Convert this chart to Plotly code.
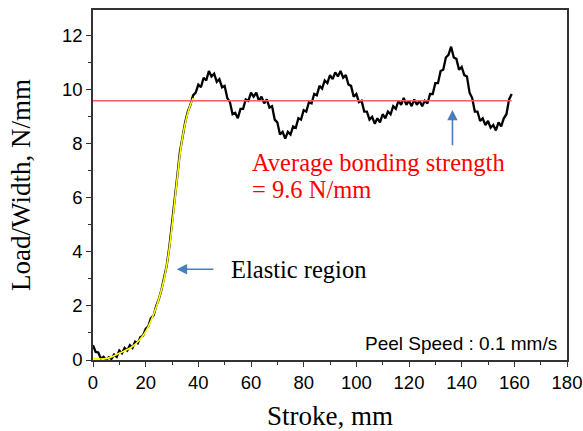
import plotly.graph_objects as go

# ---- data ----
stroke = list(range(0, 160))
load = [0.55, 0.3, 0.28, 0.05, 0.12, 0.0, 0.1, 0.04, 0.2, 0.12,
        0.35, 0.25, 0.45, 0.35, 0.55, 0.45, 0.68, 0.62, 0.85, 0.9,
        1.15, 1.25, 1.55, 1.65, 2.0, 2.25, 2.6, 3.0, 3.5, 4.2,
        5.0, 5.9, 6.8, 7.7, 8.3, 8.8, 9.2, 9.45, 9.8, 9.9,
        10.2, 10.1, 10.45, 10.35, 10.7, 10.5, 10.6, 10.3, 10.4, 10.1,
        10.15, 9.7, 9.55, 9.1, 9.15, 8.95, 9.3, 9.3, 9.65, 9.6,
        9.9, 9.75, 9.9, 9.6, 9.75, 9.5, 9.65, 9.35, 9.4, 8.9,
        8.8, 8.35, 8.45, 8.2, 8.45, 8.35, 8.65, 8.6, 8.95, 8.9,
        9.25, 9.2, 9.55, 9.5, 9.85, 9.8, 10.15, 10.05, 10.35, 10.25,
        10.55, 10.4, 10.65, 10.5, 10.7, 10.45, 10.55, 10.2, 10.15, 9.75,
        9.85, 9.55, 9.6, 9.2, 9.2, 8.9, 9.0, 8.75, 8.95, 8.8,
        9.1, 8.95, 9.2, 9.1, 9.4, 9.3, 9.6, 9.45, 9.7, 9.45,
        9.6, 9.4, 9.65, 9.45, 9.6, 9.4, 9.6, 9.5, 9.85, 9.85,
        10.25, 10.25, 10.7, 10.75, 11.2, 11.3, 11.6, 11.2, 11.15, 10.75,
        10.85, 10.55, 10.5, 9.9, 9.7, 9.2, 9.2, 8.85, 8.95, 8.7,
        8.85, 8.6, 8.7, 8.5, 8.8, 8.65, 8.95, 9.1, 9.65, 9.85]

fit_x = [0, 5, 10, 15, 18, 20, 22, 24, 26, 27, 28, 29, 30, 31, 32, 33, 34, 35, 36, 37, 38]
fit_y = [0.05, 0.05, 0.25, 0.5, 0.78, 1.05, 1.45, 1.95, 2.6, 3.0, 3.5, 4.15, 4.95,
         5.85, 6.75, 7.6, 8.25, 8.75, 9.15, 9.45, 9.7]

avg_x = [0, 159]
avg_value = 9.6

x_ticks = [0, 20, 40, 60, 80, 100, 120, 140, 160, 180]
y_ticks = [0, 2, 4, 6, 8, 10, 12]

SERIF = "Liberation Serif, Times New Roman, serif"
SANS = "Liberation Sans, Arial, sans-serif"
ARROW = "#4a7ebb"

fig = go.Figure()
fig.add_trace(go.Scatter(x=stroke, y=load, mode="lines",
                         line=dict(color="black", width=2.3), showlegend=False))
fig.add_trace(go.Scatter(x=fit_x, y=fit_y, mode="lines", line_shape="spline",
                         line=dict(color="#ffff00", width=1.6), showlegend=False))
fig.add_trace(go.Scatter(x=avg_x, y=[avg_value] * len(avg_x), mode="lines",
                         line=dict(color="#ff5a5a", width=1.4), showlegend=False))

axis_common = dict(showline=True, linecolor="#333333", linewidth=1.5, mirror=True,
                   ticks="outside", ticklen=5, tickwidth=1.2, tickcolor="#333333",
                   showgrid=False, zeroline=False, automargin=False,
                   tickfont=dict(family=SANS, size=18.5, color="black"))

fig.update_xaxes(range=[0, 180], tickvals=x_ticks,
                 minor=dict(dtick=10, tick0=0, ticks="outside", ticklen=3, tickcolor="#333333"),
                 title=dict(text="Stroke, mm", font=dict(family=SERIF, size=27, color="black"),
                            standoff=20),
                 **axis_common)
fig.update_yaxes(range=[0, 12.96], tickvals=y_ticks,
                 minor=dict(dtick=1, tick0=0, ticks="outside", ticklen=3, tickcolor="#333333"),
                 title=dict(text="Load/Width, N/mm", font=dict(family=SERIF, size=27, color="black"),
                            standoff=24),
                 **axis_common)

annotations = [
    dict(x=31.8, y=3.36, ax=46.3, ay=3.36, xref="x", yref="y", axref="x", ayref="y",
         text="", showarrow=True, arrowhead=2, arrowsize=1.3, arrowwidth=1.6, arrowcolor=ARROW),
    dict(x=136.5, y=9.26, ax=136.5, ay=7.9, xref="x", yref="y", axref="x", ayref="y",
         text="", showarrow=True, arrowhead=2, arrowsize=1.3, arrowwidth=1.6, arrowcolor=ARROW),
    dict(x=51.5, y=3.36, xref="x", yref="y", text="Elastic region", showarrow=False,
         xanchor="left", yanchor="middle", font=dict(family=SERIF, size=24.5, color="black")),
    dict(x=59.5, y=7.33, xref="x", yref="y", text="Average bonding strength", showarrow=False,
         xanchor="left", yanchor="middle", font=dict(family=SERIF, size=24.5, color="#ff0000")),
    dict(x=59.5, y=6.3, xref="x", yref="y", text="= 9.6 N/mm", showarrow=False,
         xanchor="left", yanchor="middle", font=dict(family=SERIF, size=24.5, color="#ff0000")),
    dict(x=177, y=0.6, xref="x", yref="y", text="Peel Speed : 0.1 mm/s", showarrow=False,
         xanchor="right", yanchor="middle", font=dict(family=SANS, size=19, color="black")),
]

fig.update_layout(width=583, height=431, margin=dict(l=93, r=16, t=10, b=71),
                  paper_bgcolor="white", plot_bgcolor="white",
                  annotations=annotations, showlegend=False)

fig.write_html("out.html")
